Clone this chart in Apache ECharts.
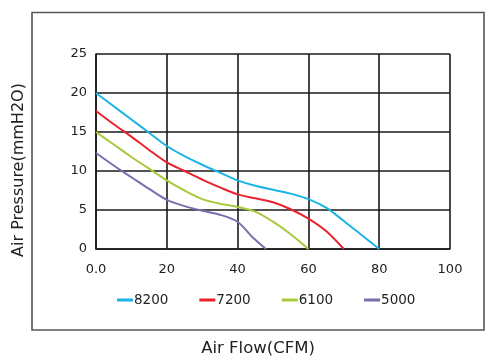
<!DOCTYPE html>
<html><head><meta charset="utf-8">
<script src="https://cdn.jsdelivr.net/npm/echarts@6/dist/echarts.min.js"></script>
<style>html,body{margin:0;padding:0;background:#fff}#c{width:495px;height:364px}</style>
</head><body><div id="c"></div>
<script>
const seriesNames = ['8200','7200','6100','5000'];
const colors = ['#1cb3e6','#e8232b','#a7c93c','#7a6fae'];
const s8200 = [[0,20.0],[5,18.3],[10,16.6],[15,14.9],[20,13.2],[25,11.9],[30,10.8],[35,9.8],[40,8.8],[45,8.1],[50,7.6],[55,7.1],[60,6.4],[65,5.3],[70,3.6],[75,1.8],[80,0]];
const s7200 = [[0,17.7],[5,16.0],[10,14.4],[15,12.7],[20,11.1],[25,10.0],[30,8.9],[35,7.9],[40,7.0],[45,6.5],[50,6.0],[55,5.1],[60,3.9],[65,2.3],[70,0]];
const s6100 = [[0,15.0],[5,13.4],[10,11.8],[15,10.3],[20,8.8],[25,7.5],[30,6.4],[35,5.8],[40,5.4],[45,4.8],[50,3.5],[55,1.9],[60,0]];
const s5000 = [[0,12.3],[5,10.7],[10,9.2],[15,7.7],[20,6.3],[25,5.5],[30,4.9],[35,4.4],[40,3.5],[44,1.6],[48,0]];
const xTicks = {min:0,max:100,interval:20};
const yTicks = {min:0,max:25,interval:5};
const allData = [s8200,s7200,s6100,s5000];
const font = '"DejaVu Sans", sans-serif';
const chart = echarts.init(document.getElementById('c'));
chart.setOption({
  animation:false,
  textStyle:{fontFamily:font},
  grid:{left:96,right:45,top:54,bottom:115},
  xAxis:{type:'value',min:xTicks.min,max:xTicks.max,interval:xTicks.interval,
    axisLine:{show:true,lineStyle:{color:'#1a1a1a',width:1.6}},axisTick:{show:false},
    splitLine:{show:true,lineStyle:{color:'#1a1a1a',width:1.6}},
    axisLabel:{color:'#222',fontSize:13,margin:14,fontFamily:font,formatter:v=>v===0?'0.0':String(v)}},
  yAxis:{type:'value',min:yTicks.min,max:yTicks.max,interval:yTicks.interval,
    axisLine:{show:true,lineStyle:{color:'#1a1a1a',width:1.6}},axisTick:{show:false},
    splitLine:{show:true,lineStyle:{color:'#1a1a1a',width:1.6}},
    axisLabel:{color:'#222',fontSize:13,margin:9,fontFamily:font}},
  legend:{left:117,top:293,padding:0,itemWidth:16,itemHeight:3,itemGap:31,icon:'rect',
    textStyle:{fontSize:13.5,color:'#222',fontFamily:font,padding:[0,0,0,-4]},
    data:seriesNames},
  graphic:[
    {type:'rect',shape:{x:32,y:12.5,width:452,height:317.5},style:{fill:'none',stroke:'#555',lineWidth:1.6},z:-1},
    {type:'text',x:258,y:349,style:{text:'Air Flow(CFM)',fill:'#222',font:'16.5px '+font,textAlign:'center',textVerticalAlign:'middle'}},
    {type:'text',x:19,y:170,rotation:Math.PI/2,style:{text:'Air Pressure(mmH2O)',fill:'#222',font:'16px '+font,textAlign:'center',textVerticalAlign:'middle'}}
  ],
  series:seriesNames.map((n,i)=>({name:n,type:'line',smooth:0.3,showSymbol:false,symbol:'none',
    data:allData[i],lineStyle:{color:colors[i],width:2},itemStyle:{color:colors[i]},z:5}))
});
</script></body></html>
